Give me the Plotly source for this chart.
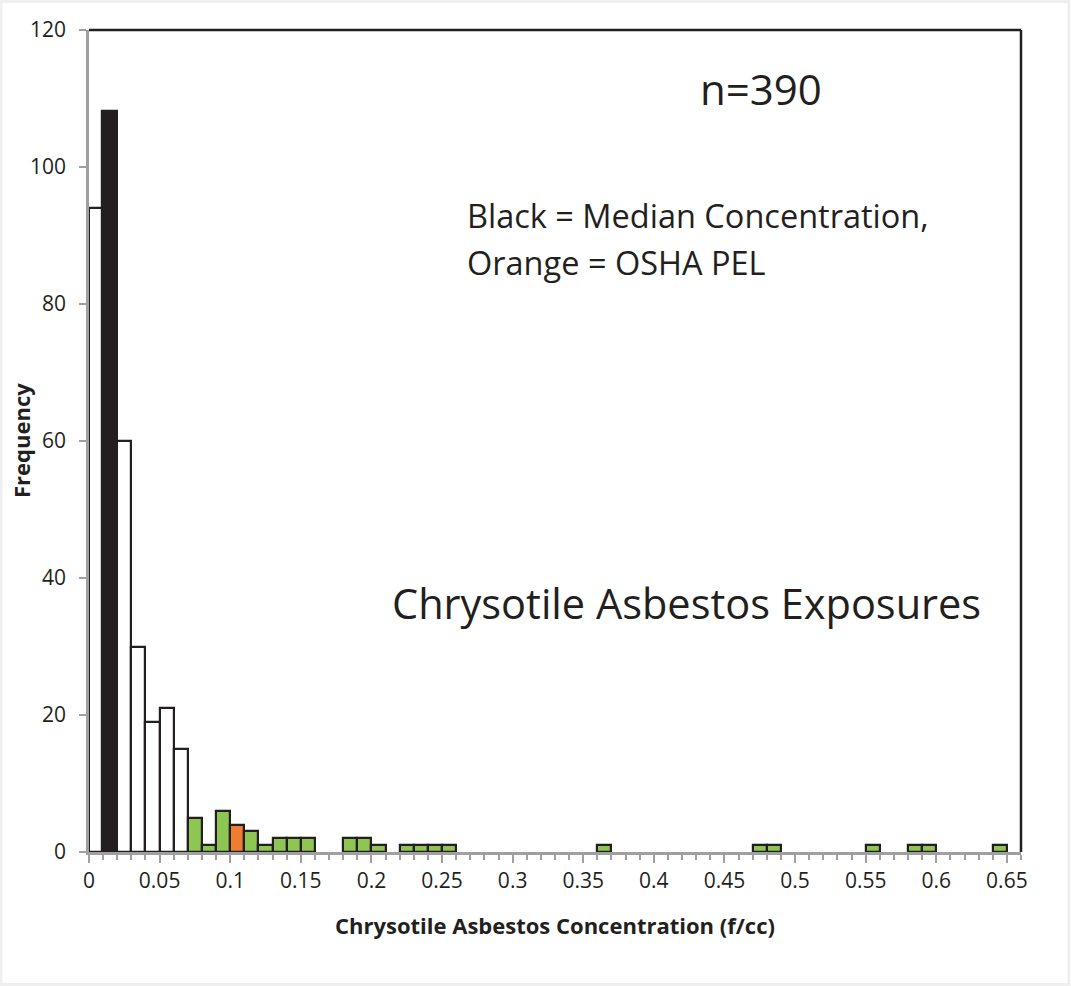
import plotly.graph_objects as go

# Histogram data: bin start (f/cc), count, bar category
bin_starts = [0.00, 0.01, 0.02, 0.03, 0.04, 0.05, 0.06, 0.07, 0.08, 0.09,
              0.10, 0.11, 0.12, 0.13, 0.14, 0.15, 0.18, 0.19, 0.20, 0.22,
              0.23, 0.24, 0.25, 0.36, 0.47, 0.48, 0.55, 0.58, 0.59, 0.64]
counts = [94, 108, 60, 30, 19, 21, 15, 5, 1, 6,
          4, 3, 1, 2, 2, 2, 2, 2, 1, 1,
          1, 1, 1, 1, 1, 1, 1, 1, 1, 1]
kinds = ["white", "median", "white", "white", "white", "white", "white", "green", "green", "green",
         "pel", "green", "green", "green", "green", "green", "green", "green", "green", "green",
         "green", "green", "green", "green", "green", "green", "green", "green", "green", "green"]

bin_width = 0.01
x_ticks = [0, 0.05, 0.1, 0.15, 0.2, 0.25, 0.3, 0.35, 0.4, 0.45, 0.5, 0.55, 0.6, 0.65]
x_tick_text = ["0", "0.05", "0.1", "0.15", "0.2", "0.25", "0.3", "0.35", "0.4", "0.45", "0.5", "0.55", "0.6", "0.65"]
y_ticks = [0, 20, 40, 60, 80, 100, 120]

fill_map = {"white": "#ffffff", "median": "#231f20", "green": "#8dc653", "pel": "#ef7d31"}
lw_map = {"white": 2.2, "median": 3.2, "green": 2.2, "pel": 2.2}

FONT = "Open Sans"
TXT = "#231f20"

fig = go.Figure()
fig.add_trace(go.Bar(
    x=bin_starts, y=counts, width=bin_width, offset=0,
    marker=dict(color=[fill_map[k] for k in kinds],
                line=dict(color=TXT, width=[lw_map[k] for k in kinds])),
    hoverinfo="x+y", showlegend=False,
))

W, H = 1071, 986
L, R, T, B = 89, 50, 30, 134
pw, ph = W - L - R, H - T - B


def px(xp):   # page x -> paper fraction
    return (xp - L) / pw


def py(yp):   # page y -> paper fraction
    return 1 - (yp - T) / ph


axis_grey = "#a0a0a3"
fig.update_layout(
    width=W, height=H,
    margin=dict(l=L, r=R, t=T, b=B, autoexpand=False),
    paper_bgcolor="white", plot_bgcolor="white",
    bargap=0,
    font=dict(family=FONT, color=TXT),
    xaxis=dict(
        range=[0, 0.66], tickmode="array", tickvals=x_ticks, ticktext=x_tick_text,
        ticks="outside", ticklen=8, tickwidth=2, tickcolor=axis_grey,
        minor=dict(dtick=0.01, tick0=0, ticks="outside", ticklen=5, tickwidth=2, tickcolor=axis_grey),
        showline=True, linecolor=axis_grey, linewidth=2.5,
        showgrid=False, zeroline=False, automargin=False,
        tickfont=dict(size=21, family=FONT, color=TXT),
    ),
    yaxis=dict(
        range=[0, 120], tickmode="array", tickvals=y_ticks,
        ticks="outside", ticklen=7, tickwidth=2, tickcolor=axis_grey,
        ticklabelstandoff=9,
        showline=True, linecolor=axis_grey, linewidth=2.5,
        showgrid=False, zeroline=False, automargin=False,
        tickfont=dict(size=21, family=FONT, color=TXT),
    ),
    shapes=[
        dict(type="line", xref="paper", yref="paper", x0=0, x1=1, y0=1, y1=1,
             line=dict(color=TXT, width=2.5)),
        dict(type="line", xref="paper", yref="paper", x0=1, x1=1, y0=0, y1=1,
             line=dict(color=TXT, width=2.5)),
        # faint grey frame around the whole picture
        dict(type="rect", xref="paper", yref="paper", x0=px(1), x1=px(1069), y0=py(1.5), y1=py(984.5),
             line=dict(color="#efefef", width=3), layer="below"),
    ],
    annotations=[
        dict(text="<b>Chrysotile Asbestos Concentration (f/cc)</b>", xref="paper", yref="paper",
             x=px(555), y=py(925), showarrow=False, xanchor="center", yanchor="middle",
             font=dict(size=22, family=FONT, color=TXT)),
        dict(text="<b>Frequency</b>", xref="paper", yref="paper", textangle=-90,
             x=px(21), y=py(441), showarrow=False, xanchor="center", yanchor="middle",
             font=dict(size=22, family=FONT, color=TXT)),
        dict(text="n=390", xref="paper", yref="paper", x=px(761), y=py(88),
             showarrow=False, font=dict(size=42, family=FONT, color=TXT), xanchor="center", yanchor="middle"),
        dict(text="Black = Median Concentration,", xref="paper", yref="paper", x=px(465), y=py(215),
             showarrow=False, font=dict(size=32.5, family=FONT, color=TXT), xanchor="left", yanchor="middle"),
        dict(text="Orange = OSHA PEL", xref="paper", yref="paper", x=px(465), y=py(262),
             showarrow=False, font=dict(size=32.5, family=FONT, color=TXT), xanchor="left", yanchor="middle"),
        dict(text="Chrysotile Asbestos Exposures", xref="paper", yref="paper", x=px(686), y=py(603),
             showarrow=False, font=dict(size=41.5, family=FONT, color=TXT), xanchor="center", yanchor="middle"),
    ],
)

fig.write_html("out.html", config={"displayModeBar": False},
               post_script="document.body.style.margin='0';document.body.style.padding='0';")
